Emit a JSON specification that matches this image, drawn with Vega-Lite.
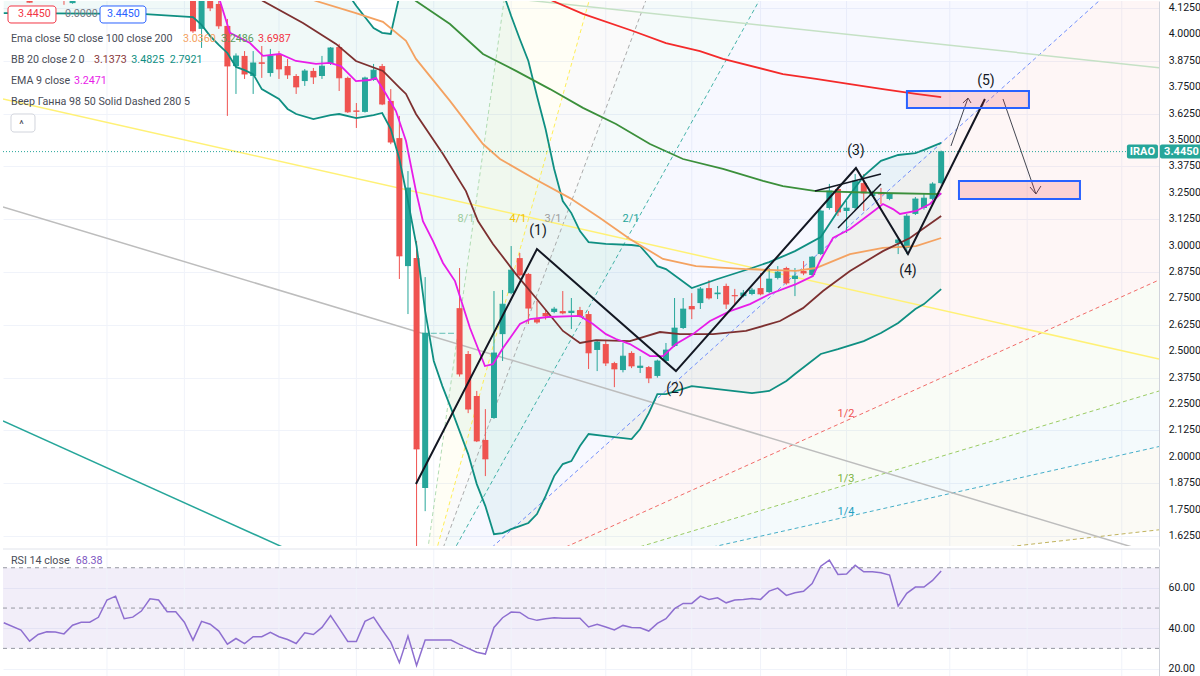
{
  "$schema": "https://vega.github.io/schema/vega-lite/v6.json",
  "padding": 0,
  "spacing": 3,
  "bounds": "flush",
  "background": "white",
  "config": {
    "view": {"stroke": null},
    "scale": {"continuousPadding": 0},
    "axis": {"labelFont": "Roboto", "labelFontSize": 10.5, "labelColor": "#131722", "ticks": false, "domainColor": "#d1d4dc", "gridColor": "#f0f3fa", "labelPadding": 9, "labelOverlap": false},
    "text": {"font": "Roboto"}
  },
  "datasets": {
    "candles": [
      {"t":-19,"o":4.170,"h":4.180,"l":4.150,"c":4.152},
      {"t":-15,"o":4.170,"h":4.180,"l":4.140,"c":4.165},
      {"t":-14,"o":4.148,"h":4.180,"l":4.145,"c":4.170},
      {"t":0,"o":4.182,"h":4.200,"l":4.007,"c":4.016},
      {"t":1,"o":4.026,"h":4.190,"l":3.936,"c":4.172},
      {"t":2,"o":4.168,"h":4.180,"l":4.110,"c":4.125},
      {"t":3,"o":4.144,"h":4.158,"l":4.026,"c":4.040},
      {"t":4,"o":4.040,"h":4.073,"l":3.614,"c":3.850},
      {"t":5,"o":3.850,"h":3.910,"l":3.718,"c":3.898},
      {"t":6,"o":3.898,"h":3.921,"l":3.789,"c":3.812},
      {"t":7,"o":3.803,"h":3.921,"l":3.718,"c":3.865},
      {"t":8,"o":3.868,"h":3.945,"l":3.794,"c":3.862},
      {"t":9,"o":3.817,"h":3.931,"l":3.800,"c":3.898},
      {"t":10,"o":3.907,"h":3.921,"l":3.789,"c":3.836},
      {"t":11,"o":3.850,"h":3.884,"l":3.789,"c":3.808},
      {"t":12,"o":3.803,"h":3.812,"l":3.718,"c":3.751},
      {"t":13,"o":3.779,"h":3.836,"l":3.756,"c":3.827},
      {"t":14,"o":3.827,"h":3.841,"l":3.765,"c":3.798},
      {"t":15,"o":3.803,"h":3.898,"l":3.789,"c":3.850},
      {"t":16,"o":3.860,"h":3.940,"l":3.855,"c":3.936},
      {"t":17,"o":3.940,"h":3.955,"l":3.732,"c":3.794},
      {"t":18,"o":3.794,"h":3.800,"l":3.628,"c":3.633},
      {"t":19,"o":3.640,"h":3.675,"l":3.557,"c":3.635},
      {"t":20,"o":3.633,"h":3.800,"l":3.630,"c":3.794},
      {"t":21,"o":3.784,"h":3.860,"l":3.780,"c":3.831},
      {"t":22,"o":3.850,"h":3.860,"l":3.665,"c":3.670},
      {"t":23,"o":3.685,"h":3.741,"l":3.480,"c":3.490},
      {"t":24,"o":3.509,"h":3.614,"l":2.842,"c":2.951},
      {"t":25,"o":2.903,"h":3.353,"l":2.676,"c":3.273},
      {"t":26,"o":2.941,"h":3.022,"l":1.450,"c":2.037},
      {"t":27,"o":1.852,"h":2.851,"l":1.743,"c":2.586},
      {"t":28,"o":2.585,"h":2.585,"l":2.585,"c":2.585},
      {"t":29,"o":2.585,"h":2.585,"l":2.585,"c":2.585},
      {"t":30,"o":2.585,"h":2.585,"l":2.585,"c":2.585},
      {"t":31,"o":2.704,"h":2.894,"l":2.380,"c":2.392},
      {"t":32,"o":2.487,"h":2.501,"l":2.207,"c":2.226},
      {"t":33,"o":2.288,"h":2.312,"l":2.070,"c":2.075},
      {"t":34,"o":2.080,"h":2.226,"l":1.909,"c":1.990},
      {"t":35,"o":2.184,"h":2.785,"l":2.180,"c":2.492},
      {"t":36,"o":2.581,"h":2.790,"l":2.454,"c":2.723},
      {"t":37,"o":2.775,"h":2.998,"l":2.770,"c":2.884},
      {"t":38,"o":2.941,"h":2.965,"l":2.855,"c":2.861},
      {"t":39,"o":2.866,"h":2.870,"l":2.629,"c":2.704},
      {"t":40,"o":2.652,"h":2.738,"l":2.630,"c":2.638},
      {"t":41,"o":2.681,"h":2.700,"l":2.650,"c":2.667},
      {"t":42,"o":2.686,"h":2.710,"l":2.680,"c":2.700},
      {"t":43,"o":2.690,"h":2.785,"l":2.675,"c":2.681},
      {"t":44,"o":2.681,"h":2.752,"l":2.605,"c":2.690},
      {"t":45,"o":2.695,"h":2.710,"l":2.660,"c":2.667},
      {"t":46,"o":2.676,"h":2.690,"l":2.416,"c":2.492},
      {"t":47,"o":2.506,"h":2.550,"l":2.406,"c":2.544},
      {"t":48,"o":2.534,"h":2.550,"l":2.430,"c":2.444},
      {"t":49,"o":2.444,"h":2.450,"l":2.330,"c":2.416},
      {"t":50,"o":2.411,"h":2.539,"l":2.400,"c":2.477},
      {"t":51,"o":2.492,"h":2.500,"l":2.420,"c":2.430},
      {"t":52,"o":2.421,"h":2.477,"l":2.397,"c":2.430},
      {"t":53,"o":2.425,"h":2.430,"l":2.349,"c":2.373},
      {"t":54,"o":2.383,"h":2.460,"l":2.375,"c":2.454},
      {"t":55,"o":2.454,"h":2.539,"l":2.450,"c":2.506},
      {"t":56,"o":2.525,"h":2.752,"l":2.520,"c":2.610},
      {"t":57,"o":2.610,"h":2.752,"l":2.605,"c":2.700},
      {"t":58,"o":2.714,"h":2.775,"l":2.652,"c":2.700},
      {"t":59,"o":2.728,"h":2.804,"l":2.700,"c":2.795},
      {"t":60,"o":2.799,"h":2.837,"l":2.745,"c":2.752},
      {"t":61,"o":2.770,"h":2.809,"l":2.747,"c":2.776},
      {"t":62,"o":2.809,"h":2.820,"l":2.700,"c":2.723},
      {"t":63,"o":2.766,"h":2.795,"l":2.723,"c":2.762},
      {"t":64,"o":2.761,"h":2.790,"l":2.755,"c":2.776},
      {"t":65,"o":2.771,"h":2.800,"l":2.765,"c":2.790},
      {"t":66,"o":2.799,"h":2.870,"l":2.765,"c":2.771},
      {"t":67,"o":2.780,"h":2.894,"l":2.775,"c":2.842},
      {"t":68,"o":2.847,"h":2.903,"l":2.840,"c":2.875},
      {"t":69,"o":2.894,"h":2.900,"l":2.815,"c":2.823},
      {"t":70,"o":2.842,"h":2.894,"l":2.761,"c":2.856},
      {"t":71,"o":2.880,"h":2.927,"l":2.860,"c":2.870},
      {"t":72,"o":2.861,"h":2.950,"l":2.855,"c":2.946},
      {"t":73,"o":2.960,"h":3.170,"l":2.955,"c":3.164},
      {"t":74,"o":3.178,"h":3.292,"l":3.170,"c":3.259},
      {"t":75,"o":3.268,"h":3.280,"l":3.140,"c":3.159},
      {"t":76,"o":3.164,"h":3.211,"l":3.060,"c":3.178},
      {"t":77,"o":3.178,"h":3.339,"l":3.170,"c":3.306},
      {"t":78,"o":3.296,"h":3.339,"l":3.164,"c":3.249},
      {"t":79,"o":3.235,"h":3.260,"l":3.230,"c":3.249},
      {"t":80,"o":3.254,"h":3.273,"l":3.197,"c":3.244},
      {"t":81,"o":3.221,"h":3.250,"l":3.215,"c":3.244},
      {"t":82,"o":3.012,"h":3.036,"l":2.960,"c":3.027},
      {"t":83,"o":2.989,"h":3.150,"l":2.960,"c":3.140},
      {"t":84,"o":3.150,"h":3.230,"l":3.145,"c":3.221},
      {"t":85,"o":3.178,"h":3.244,"l":3.170,"c":3.225},
      {"t":86,"o":3.221,"h":3.300,"l":3.215,"c":3.292},
      {"t":87,"o":3.296,"h":3.450,"l":3.290,"c":3.445}
    ],
    "ind": [
      {"s":"e200","t":39.53,"p":4.205},{"s":"e200","t":41.86,"p":4.158},{"s":"e200","t":45.35,"p":4.097},{"s":"e200","t":51.16,"p":4.016},{"s":"e200","t":55,"p":3.959},{"s":"e200","t":58.95,"p":3.921},{"s":"e200","t":61.63,"p":3.884},{"s":"e200","t":68.6,"p":3.812},{"s":"e200","t":72.44,"p":3.789},{"s":"e200","t":76.4,"p":3.765},{"s":"e200","t":80.23,"p":3.741},{"s":"e200","t":84.07,"p":3.718},{"s":"e200","t":87,"p":3.703},
      {"s":"e100","t":24.42,"p":4.205},{"s":"e100","t":25.93,"p":4.158},{"s":"e100","t":29.88,"p":4.049},{"s":"e100","t":33.72,"p":3.907},{"s":"e100","t":37.56,"p":3.827},{"s":"e100","t":41.51,"p":3.741},{"s":"e100","t":45.35,"p":3.652},{"s":"e100","t":49.19,"p":3.576},{"s":"e100","t":53.14,"p":3.481},{"s":"e100","t":56.98,"p":3.410},{"s":"e100","t":61.63,"p":3.363},{"s":"e100","t":66.28,"p":3.306},{"s":"e100","t":68.6,"p":3.282},{"s":"e100","t":72.44,"p":3.258},{"s":"e100","t":80.23,"p":3.249},{"s":"e100","t":87,"p":3.244},
      {"s":"e50","t":12.79,"p":4.182},{"s":"e50","t":14.3,"p":4.158},{"s":"e50","t":18.95,"p":4.101},{"s":"e50","t":22.09,"p":4.059},{"s":"e50","t":24.77,"p":3.969},{"s":"e50","t":25.93,"p":3.884},{"s":"e50","t":29.88,"p":3.685},{"s":"e50","t":33.72,"p":3.481},{"s":"e50","t":35.7,"p":3.410},{"s":"e50","t":39.53,"p":3.320},{"s":"e50","t":43.84,"p":3.225},{"s":"e50","t":47.33,"p":3.131},{"s":"e50","t":50.81,"p":3.031},{"s":"e50","t":54.65,"p":2.937},{"s":"e50","t":58.49,"p":2.903},{"s":"e50","t":64.3,"p":2.889},{"s":"e50","t":70.12,"p":2.880},{"s":"e50","t":72.44,"p":2.894},{"s":"e50","t":76.4,"p":2.960},{"s":"e50","t":80.23,"p":2.989},{"s":"e50","t":84.07,"p":2.998},{"s":"e50","t":87,"p":3.036},
      {"s":"bas","t":6.4,"p":4.205},{"s":"bas","t":8.14,"p":4.158},{"s":"bas","t":12.79,"p":4.054},{"s":"bas","t":16.63,"p":3.955},{"s":"bas","t":18.95,"p":3.874},{"s":"bas","t":22.09,"p":3.827},{"s":"bas","t":24.07,"p":3.746},{"s":"bas","t":24.77,"p":3.718},{"s":"bas","t":25.93,"p":3.623},{"s":"bas","t":29.07,"p":3.434},{"s":"bas","t":31.74,"p":3.258},{"s":"bas","t":33.14,"p":3.116},{"s":"bas","t":34.88,"p":3.008},{"s":"bas","t":37.56,"p":2.865},{"s":"bas","t":39.88,"p":2.752},{"s":"bas","t":43.02,"p":2.596},{"s":"bas","t":45,"p":2.539},{"s":"bas","t":46.86,"p":2.553},{"s":"bas","t":50.81,"p":2.548},{"s":"bas","t":54.3,"p":2.591},{"s":"bas","t":56.63,"p":2.581},{"s":"bas","t":60.47,"p":2.581},{"s":"bas","t":64.3,"p":2.596},{"s":"bas","t":68.26,"p":2.643},{"s":"bas","t":70.93,"p":2.704},{"s":"bas","t":73.26,"p":2.785},{"s":"bas","t":76.4,"p":2.880},{"s":"bas","t":80.23,"p":2.974},{"s":"bas","t":83.37,"p":3.036},{"s":"bas","t":87,"p":3.140},
      {"s":"e9","t":1.74,"p":4.253},{"s":"e9","t":3.14,"p":4.158},{"s":"e9","t":4.3,"p":4.007},{"s":"e9","t":6.63,"p":3.959},{"s":"e9","t":8.14,"p":3.898},{"s":"e9","t":10.12,"p":3.907},{"s":"e9","t":11.98,"p":3.874},{"s":"e9","t":14.3,"p":3.860},{"s":"e9","t":15.93,"p":3.865},{"s":"e9","t":17.2,"p":3.850},{"s":"e9","t":18.95,"p":3.779},{"s":"e9","t":20.58,"p":3.784},{"s":"e9","t":21.28,"p":3.794},{"s":"e9","t":22.44,"p":3.718},{"s":"e9","t":23.6,"p":3.637},{"s":"e9","t":24.77,"p":3.495},{"s":"e9","t":25.93,"p":3.258},{"s":"e9","t":26.74,"p":3.116},{"s":"e9","t":27.9,"p":3.022},{"s":"e9","t":29.07,"p":2.918},{"s":"e9","t":30.47,"p":2.832},{"s":"e9","t":32.21,"p":2.610},{"s":"e9","t":33.95,"p":2.430},{"s":"e9","t":34.88,"p":2.439},{"s":"e9","t":36.05,"p":2.515},{"s":"e9","t":38.02,"p":2.629},{"s":"e9","t":39.19,"p":2.652},{"s":"e9","t":41.28,"p":2.662},{"s":"e9","t":45,"p":2.667},{"s":"e9","t":46.51,"p":2.629},{"s":"e9","t":48.02,"p":2.581},{"s":"e9","t":49.19,"p":2.558},{"s":"e9","t":50.81,"p":2.534},{"s":"e9","t":53.14,"p":2.477},{"s":"e9","t":54.65,"p":2.477},{"s":"e9","t":56.16,"p":2.534},{"s":"e9","t":58.14,"p":2.581},{"s":"e9","t":60.12,"p":2.643},{"s":"e9","t":62.44,"p":2.690},{"s":"e9","t":64.77,"p":2.723},{"s":"e9","t":67.09,"p":2.771},{"s":"e9","t":70.12,"p":2.818},{"s":"e9","t":72.09,"p":2.856},{"s":"e9","t":72.91,"p":2.927},{"s":"e9","t":74.42,"p":3.036},{"s":"e9","t":76.4,"p":3.079},{"s":"e9","t":78.72,"p":3.150},{"s":"e9","t":80.23,"p":3.197},{"s":"e9","t":81.4,"p":3.173},{"s":"e9","t":82.21,"p":3.150},{"s":"e9","t":84.07,"p":3.164},{"s":"e9","t":85.7,"p":3.197},{"s":"e9","t":87,"p":3.249}
    ],
    "bb": [
      {"t":-22,"up":4.632,"lo":4.101},{"t":-6,"up":4.632,"lo":4.097},{"t":0,"up":4.726,"lo":4.082},{"t":1,"up":4.750,"lo":4.045},{"t":2,"up":4.764,"lo":3.992},{"t":3,"up":4.774,"lo":3.950},{"t":4,"up":4.774,"lo":3.912},{"t":5,"up":4.774,"lo":3.846},{"t":6,"up":4.750,"lo":3.831},{"t":7,"up":4.726,"lo":3.812},{"t":8,"up":4.703,"lo":3.741},{"t":10,"up":4.584,"lo":3.694},{"t":11,"up":4.537,"lo":3.647},{"t":12,"up":4.490,"lo":3.623},{"t":14,"up":4.419,"lo":3.599},{"t":16,"up":4.324,"lo":3.618},{"t":17,"up":4.253,"lo":3.623},{"t":19,"up":4.134,"lo":3.604},{"t":21,"up":4.030,"lo":3.618},{"t":22,"up":4.007,"lo":3.628},{"t":23,"up":4.002,"lo":3.552},{"t":24,"up":4.182,"lo":3.410},{"t":25,"up":4.253,"lo":3.211},{"t":26,"up":4.324,"lo":2.998},{"t":27,"up":4.419,"lo":2.690},{"t":28,"up":4.490,"lo":2.454},{"t":29,"up":4.537,"lo":2.335},{"t":30,"up":4.537,"lo":2.231},{"t":31,"up":4.490,"lo":2.122},{"t":32,"up":4.442,"lo":2.013},{"t":33,"up":4.371,"lo":1.871},{"t":34,"up":4.348,"lo":1.767},{"t":35,"up":4.324,"lo":1.634},{"t":36,"up":4.205,"lo":1.639},{"t":37,"up":4.087,"lo":1.658},{"t":38,"up":3.978,"lo":1.672},{"t":39,"up":3.874,"lo":1.687},{"t":40,"up":3.708,"lo":1.729},{"t":41,"up":3.552,"lo":1.814},{"t":42,"up":3.363,"lo":1.909},{"t":43,"up":3.211,"lo":1.966},{"t":44,"up":3.154,"lo":1.980},{"t":45,"up":3.069,"lo":2.051},{"t":46,"up":3.017,"lo":2.108},{"t":48,"up":3.008,"lo":2.098},{"t":51,"up":3.003,"lo":2.084},{"t":52,"up":2.998,"lo":2.132},{"t":53,"up":2.951,"lo":2.207},{"t":54,"up":2.903,"lo":2.297},{"t":55,"up":2.889,"lo":2.297},{"t":58,"up":2.799,"lo":2.335},{"t":61,"up":2.842,"lo":2.321},{"t":65,"up":2.894,"lo":2.302},{"t":67,"up":2.922,"lo":2.312},{"t":69,"up":2.956,"lo":2.359},{"t":70,"up":2.974,"lo":2.392},{"t":73,"up":3.041,"lo":2.487},{"t":75,"up":3.164,"lo":2.510},{"t":78,"up":3.330,"lo":2.548},{"t":80,"up":3.401,"lo":2.586},{"t":82,"up":3.429,"lo":2.634},{"t":84,"up":3.438,"lo":2.700},{"t":85,"up":3.453,"lo":2.723},{"t":87,"up":3.486,"lo":2.794}
    ],
    "fan": [
      {"k":"8/1","t":26.28,"p":1.2604,"t2":36.65,"p2":4.3},
      {"k":"4/1","t":26.28,"p":1.2604,"t2":47.02,"p2":4.3},
      {"k":"3/1","t":26.28,"p":1.2604,"t2":53.93,"p2":4.3},
      {"k":"2/1","t":26.28,"p":1.2604,"t2":67.75,"p2":4.3},
      {"k":"1/1","t":26.28,"p":1.2604,"t2":109.22,"p2":4.3},
      {"k":"1/2","t":26.28,"p":1.2604,"t2":112.33,"p2":2.8372},
      {"k":"1/3","t":26.28,"p":1.2604,"t2":112.33,"p2":2.3116},
      {"k":"1/4","t":26.28,"p":1.2604,"t2":112.33,"p2":2.0488},
      {"k":"1/8","t":26.28,"p":1.2604,"t2":112.33,"p2":1.6546}
    ],
    "fanband": [
      {"b":"b81","t":26.28,"hi":1.2604,"lo":1.2604},{"b":"b81","t":112.33,"hi":26.488,"lo":13.875},
      {"b":"b43","t":26.28,"hi":1.2604,"lo":1.2604},{"b":"b43","t":112.33,"hi":13.875,"lo":10.721},
      {"b":"b32","t":26.28,"hi":1.2604,"lo":1.2604},{"b":"b32","t":112.33,"hi":10.721,"lo":7.5675},
      {"b":"b21","t":26.28,"hi":1.2604,"lo":1.2604},{"b":"b21","t":112.33,"hi":7.5675,"lo":4.4140},
      {"b":"b11","t":26.28,"hi":1.2604,"lo":1.2604},{"b":"b11","t":112.33,"hi":4.4140,"lo":2.8372},
      {"b":"b12","t":26.28,"hi":1.2604,"lo":1.2604},{"b":"b12","t":112.33,"hi":2.8372,"lo":2.3116},
      {"b":"b13","t":26.28,"hi":1.2604,"lo":1.2604},{"b":"b13","t":112.33,"hi":2.3116,"lo":2.0488},
      {"b":"b14","t":26.28,"hi":1.2604,"lo":1.2604},{"b":"b14","t":112.33,"hi":2.0488,"lo":1.6546}
    ],
    "draw": [
      {"s":"yellow","t":-22.09,"p":3.6941},{"s":"yellow","t":112.33,"p":2.4630},
      {"s":"grey","t":-22.09,"p":3.1827},{"s":"grey","t":112.33,"p":1.5350},
      {"s":"teal","t":-22.09,"p":2.1695},{"s":"teal","t":13,"p":1.5256},
      {"s":"lgreen","t":35,"p":4.179},{"s":"lgreen","t":112.33,"p":3.8423}
    ],
    "wave": [
      {"s":"wave","t":25.93,"p":1.8712},{"s":"wave","t":40,"p":2.9839},{"s":"wave","t":56.16,"p":2.4062},{"s":"wave","t":77.09,"p":3.3674},{"s":"wave","t":83.14,"p":2.9602},{"s":"wave","t":92.09,"p":3.6941}
    ],
    "chan": [
      {"s":"ch1","t":72.33,"p":3.2585},{"s":"ch1","t":80,"p":3.3390},
      {"s":"ch2","t":75,"p":3.0833},{"s":"ch2","t":80,"p":3.2916}
    ],
    "arrows": [
      {"s":"a1","t":88.14,"p":3.4716},{"s":"a1","t":90.12,"p":3.6988},
      {"s":"a1h","t":89.53,"p":3.6752},{"s":"a1h","t":90.12,"p":3.6988},{"s":"a1h","t":90.47,"p":3.6752},
      {"s":"a2","t":94.19,"p":3.6941},{"s":"a2","t":98.02,"p":3.2443},
      {"s":"a2h","t":97.33,"p":3.2774},{"s":"a2h","t":98.02,"p":3.2443},{"s":"a2h","t":98.6,"p":3.2822}
    ],
    "vgrid": [{"t":-10},{"t":-1},{"t":10},{"t":19},{"t":28},{"t":37},{"t":48},{"t":58},{"t":66},{"t":76},{"t":88},{"t":97},{"t":108}],
    "pticks": [{"p":1.625},{"p":1.75},{"p":1.875},{"p":2},{"p":2.125},{"p":2.25},{"p":2.375},{"p":2.5},{"p":2.625},{"p":2.75},{"p":2.875},{"p":3},{"p":3.125},{"p":3.25},{"p":3.375},{"p":3.5},{"p":3.625},{"p":3.75},{"p":3.875},{"p":4},{"p":4.125}],
    "rsi": [
      {"t":-22,"v":42.7},{"t":-20,"v":39.1},{"t":-19,"v":33.6},{"t":-18,"v":36.9},{"t":-17,"v":38.2},{"t":-16,"v":38.1},{"t":-15,"v":37.2},{"t":-14,"v":41.5},{"t":-13,"v":43.0},{"t":-12,"v":43.0},{"t":-11,"v":45.4},{"t":-10,"v":54.0},{"t":-9,"v":55.9},{"t":-8,"v":44.7},{"t":-7,"v":45.5},{"t":-6,"v":48.5},{"t":-5,"v":54.6},{"t":-4,"v":54.0},{"t":-3,"v":48.2},{"t":-2,"v":48.2},{"t":-1,"v":43.0},
      {"t":0,"v":34.1},{"t":1,"v":43.4},{"t":2,"v":42.0},{"t":3,"v":38.6},{"t":4,"v":32.1},{"t":5,"v":34.9},{"t":6,"v":32.4},{"t":7,"v":35.8},{"t":8,"v":35.8},{"t":9,"v":37.9},{"t":10,"v":35.8},{"t":11,"v":34.4},{"t":12,"v":32.4},{"t":13,"v":37.7},{"t":14,"v":36.9},{"t":15,"v":40.4},{"t":16,"v":46.3},{"t":17,"v":39.9},{"t":18,"v":33.4},{"t":19,"v":33.4},{"t":20,"v":43.4},{"t":21,"v":45.5},{"t":22,"v":39.1},{"t":23,"v":33.1},{"t":24,"v":22.9},{"t":25,"v":36.1},{"t":26,"v":21.5},{"t":27,"v":34.1},{"t":28,"v":34.1},{"t":29,"v":34.1},{"t":30,"v":34.1},{"t":31,"v":32.0},{"t":32,"v":30.0},{"t":33,"v":28.1},{"t":34,"v":27.2},{"t":35,"v":40.4},{"t":36,"v":45.2},{"t":37,"v":48.0},{"t":38,"v":47.8},{"t":39,"v":45.0},{"t":40,"v":43.9},{"t":41,"v":44.7},{"t":42,"v":45.2},{"t":43,"v":45.0},{"t":44,"v":45.0},{"t":45,"v":44.9},{"t":46,"v":40.6},{"t":47,"v":42.0},{"t":48,"v":40.6},{"t":49,"v":39.1},{"t":50,"v":41.4},{"t":51,"v":40.4},{"t":52,"v":40.2},{"t":53,"v":38.6},{"t":54,"v":42.4},{"t":55,"v":44.7},{"t":56,"v":49.7},{"t":57,"v":52.3},{"t":58,"v":52.3},{"t":59,"v":55.9},{"t":60,"v":54.3},{"t":61,"v":55.1},{"t":62,"v":52.6},{"t":63,"v":54.0},{"t":64,"v":54.3},{"t":65,"v":54.8},{"t":66,"v":54.3},{"t":67,"v":58.4},{"t":68,"v":59.9},{"t":69,"v":56.3},{"t":70,"v":57.6},{"t":71,"v":58.3},{"t":72,"v":62.2},{"t":73,"v":70.8},{"t":74,"v":73.8},{"t":75,"v":66.7},{"t":76,"v":66.9},{"t":77,"v":71.2},{"t":78,"v":68.0},{"t":79,"v":68.0},{"t":80,"v":67.5},{"t":81,"v":66.4},{"t":82,"v":51.0},{"t":83,"v":57.3},{"t":84,"v":60.4},{"t":85,"v":60.4},{"t":86,"v":63.7},{"t":87,"v":68.4}
    ]
  },
  "vconcat": [
    {
      "width": 1156,
      "height": 545,
      "resolve": {"scale": {"color": "independent", "stroke": "independent"}},
      "layer": [
        {
          "data": {"name": "vgrid"},
          "mark": {"type": "rule", "color": "#f0f3fa", "strokeWidth": 1},
          "encoding": {"x": {"field": "t", "type": "quantitative", "scale": {"domain": [-22.09, 112.33], "nice": false, "zero": false, "padding": 0}, "axis": null}}
        },
        {
          "data": {"name": "fanband"},
          "mark": {"type": "area", "clip": true, "opacity": 0.05},
          "encoding": {
            "x": {"field": "t", "type": "quantitative", "scale": {"domain": [-22.09, 112.33], "nice": false, "zero": false, "padding": 0}, "axis": null},
            "y": {"field": "hi", "type": "quantitative", "title": null, "stack": null, "scale": {"domain": [1.578, 4.158], "nice": false, "zero": false, "padding": 0},
                  "axis": {"orient": "right", "title": null, "values": [1.625,1.75,1.875,2,2.125,2.25,2.375,2.5,2.625,2.75,2.875,3,3.125,3.25,3.375,3.5,3.625,3.75,3.875,4,4.125], "labels": false, "grid": true, "domain": true}},
            "y2": {"field": "lo"},
            "color": {"field": "b", "type": "nominal", "legend": null, "scale": {"domain": ["b81","b43","b32","b21","b11","b12","b13","b14"], "range": ["#ffeb3b","#9e9e9e","#26a69a","#5b7cfa","#ef5350","#8bc34a","#26a0c0","#b5a642"]}}
          }
        },
        {
          "data": {"name": "bb"},
          "mark": {"type": "area", "clip": true, "color": "#26a69a", "opacity": 0.07},
          "encoding": {
            "x": {"field": "t", "type": "quantitative", "scale": {"domain": [-22.09, 112.33], "nice": false, "zero": false, "padding": 0}, "axis": null},
            "y": {"field": "up", "type": "quantitative", "title": null, "stack": null, "scale": {"domain": [1.578, 4.158], "nice": false, "zero": false, "padding": 0}},
            "y2": {"field": "lo"}
          }
        },
        {
          "data": {"name": "fan"},
          "mark": {"type": "rule", "clip": true, "strokeWidth": 1, "strokeDash": [4, 3], "opacity": 0.85},
          "encoding": {
            "x": {"field": "t", "type": "quantitative", "scale": {"domain": [-22.09, 112.33], "nice": false, "zero": false, "padding": 0}, "axis": null},
            "y": {"field": "p", "type": "quantitative", "title": null, "scale": {"domain": [1.578, 4.158], "nice": false, "zero": false, "padding": 0}},
            "x2": {"field": "t2"},
            "y2": {"field": "p2"},
            "color": {"field": "k", "type": "nominal", "legend": null, "scale": {"domain": ["8/1","4/1","3/1","2/1","1/1","1/2","1/3","1/4","1/8"], "range": ["#a5d6a7","#ffeb3b","#9e9e9e","#26a69a","#5b7cfa","#ef5350","#8bc34a","#26a0c0","#b5a642"]}}
          }
        },
        {
          "data": {"name": "draw"},
          "mark": {"type": "line", "clip": true, "strokeWidth": 1.5},
          "encoding": {
            "x": {"field": "t", "type": "quantitative", "scale": {"domain": [-22.09, 112.33], "nice": false, "zero": false, "padding": 0}, "axis": null},
            "y": {"field": "p", "type": "quantitative", "title": null, "scale": {"domain": [1.578, 4.158], "nice": false, "zero": false, "padding": 0}},
            "color": {"field": "s", "type": "nominal", "legend": null, "scale": {"domain": ["yellow","grey","teal","lgreen"], "range": ["#fff176","#bdbdbd","#26a69a","#c5e1c5"]}}
          }
        },
        {
          "data": {"name": "candles"},
          "mark": {"type": "rule", "clip": true, "strokeWidth": 1},
          "encoding": {
            "x": {"field": "t", "type": "quantitative", "scale": {"domain": [-22.09, 112.33], "nice": false, "zero": false, "padding": 0}, "axis": null},
            "y": {"field": "l", "type": "quantitative", "title": null, "scale": {"domain": [1.578, 4.158], "nice": false, "zero": false, "padding": 0}},
            "y2": {"field": "h"},
            "color": {"condition": {"test": "datum.c >= datum.o", "value": "#26a69a"}, "value": "#ef5350"}
          }
        },
        {
          "data": {"name": "candles"},
          "mark": {"type": "bar", "clip": true, "width": 6},
          "encoding": {
            "x": {"field": "t", "type": "quantitative", "scale": {"domain": [-22.09, 112.33], "nice": false, "zero": false, "padding": 0}, "axis": null},
            "y": {"field": "o", "type": "quantitative", "title": null, "scale": {"domain": [1.578, 4.158], "nice": false, "zero": false, "padding": 0}},
            "y2": {"field": "c"},
            "color": {"condition": {"test": "datum.c >= datum.o", "value": "#26a69a"}, "value": "#ef5350"}
          }
        },
        {
          "data": {"name": "candles"},
          "mark": {"type": "tick", "clip": true, "orient": "horizontal", "size": 6, "thickness": 1},
          "encoding": {
            "x": {"field": "t", "type": "quantitative", "scale": {"domain": [-22.09, 112.33], "nice": false, "zero": false, "padding": 0}, "axis": null},
            "y": {"field": "c", "type": "quantitative", "title": null, "scale": {"domain": [1.578, 4.158], "nice": false, "zero": false, "padding": 0}},
            "color": {"condition": {"test": "datum.c >= datum.o", "value": "#26a69a"}, "value": "#ef5350"}
          }
        },
        {
          "data": {"name": "bb"},
          "mark": {"type": "line", "clip": true, "color": "#0f8f82", "strokeWidth": 1.8},
          "encoding": {
            "x": {"field": "t", "type": "quantitative", "scale": {"domain": [-22.09, 112.33], "nice": false, "zero": false, "padding": 0}, "axis": null},
            "y": {"field": "up", "type": "quantitative", "title": null, "scale": {"domain": [1.578, 4.158], "nice": false, "zero": false, "padding": 0}}
          }
        },
        {
          "data": {"name": "bb"},
          "mark": {"type": "line", "clip": true, "color": "#0f8f82", "strokeWidth": 1.8},
          "encoding": {
            "x": {"field": "t", "type": "quantitative", "scale": {"domain": [-22.09, 112.33], "nice": false, "zero": false, "padding": 0}, "axis": null},
            "y": {"field": "lo", "type": "quantitative", "title": null, "scale": {"domain": [1.578, 4.158], "nice": false, "zero": false, "padding": 0}}
          }
        },
        {
          "data": {"name": "ind"},
          "mark": {"type": "line", "clip": true, "strokeWidth": 1.8},
          "encoding": {
            "x": {"field": "t", "type": "quantitative", "scale": {"domain": [-22.09, 112.33], "nice": false, "zero": false, "padding": 0}, "axis": null},
            "y": {"field": "p", "type": "quantitative", "title": null, "scale": {"domain": [1.578, 4.158], "nice": false, "zero": false, "padding": 0}},
            "color": {"field": "s", "type": "nominal", "legend": null, "scale": {"domain": ["e200","e100","e50","bas","e9"], "range": ["#f42a2a","#3b8f3b","#f4a261","#7d3030","#e81ce8"]}}
          }
        },
        {
          "data": {"values": [{"t": -22.09, "t2": 108.6, "p": 3.445}]},
          "mark": {"type": "rule", "color": "#26a69a", "strokeWidth": 1, "strokeDash": [1, 2]},
          "encoding": {
            "x": {"field": "t", "type": "quantitative", "scale": {"domain": [-22.09, 112.33], "nice": false, "zero": false, "padding": 0}, "axis": null},
            "x2": {"field": "t2"},
            "y": {"field": "p", "type": "quantitative", "title": null, "scale": {"domain": [1.578, 4.158], "nice": false, "zero": false, "padding": 0}}
          }
        },
        {
          "data": {"name": "wave"},
          "mark": {"type": "line", "clip": true, "color": "#131722", "strokeWidth": 2},
          "encoding": {
            "x": {"field": "t", "type": "quantitative", "scale": {"domain": [-22.09, 112.33], "nice": false, "zero": false, "padding": 0}, "axis": null},
            "y": {"field": "p", "type": "quantitative", "title": null, "scale": {"domain": [1.578, 4.158], "nice": false, "zero": false, "padding": 0}}
          }
        },
        {
          "data": {"name": "chan"},
          "mark": {"type": "line", "clip": true, "color": "#131722", "strokeWidth": 1.5},
          "encoding": {
            "x": {"field": "t", "type": "quantitative", "scale": {"domain": [-22.09, 112.33], "nice": false, "zero": false, "padding": 0}, "axis": null},
            "y": {"field": "p", "type": "quantitative", "title": null, "scale": {"domain": [1.578, 4.158], "nice": false, "zero": false, "padding": 0}},
            "detail": {"field": "s"}
          }
        },
        {
          "data": {"name": "arrows"},
          "mark": {"type": "line", "clip": true, "color": "#434651", "strokeWidth": 1},
          "encoding": {
            "x": {"field": "t", "type": "quantitative", "scale": {"domain": [-22.09, 112.33], "nice": false, "zero": false, "padding": 0}, "axis": null},
            "y": {"field": "p", "type": "quantitative", "title": null, "scale": {"domain": [1.578, 4.158], "nice": false, "zero": false, "padding": 0}},
            "detail": {"field": "s"}
          }
        },
        {
          "data": {"values": [{"r": "r1", "t": 83.02, "t2": 97.21, "p": 3.7320, "p2": 3.6516}, {"r": "r2", "t": 89.07, "t2": 103.14, "p": 3.3058, "p2": 3.2206}]},
          "mark": {"type": "rect", "fill": "#f23645", "fillOpacity": 0.18, "stroke": "#2962ff", "strokeWidth": 2},
          "encoding": {
            "x": {"field": "t", "type": "quantitative", "scale": {"domain": [-22.09, 112.33], "nice": false, "zero": false, "padding": 0}, "axis": null},
            "x2": {"field": "t2"},
            "y": {"field": "p", "type": "quantitative", "title": null, "scale": {"domain": [1.578, 4.158], "nice": false, "zero": false, "padding": 0}},
            "y2": {"field": "p2"}
          }
        },
        {
          "data": {"values": [{"k": "red", "t": -21.51, "t2": -15.93, "p": 4.1344, "p2": 4.0539}, {"k": "blue", "t": -10.81, "t2": -5.47, "p": 4.1344, "p2": 4.0539}, {"k": "btn", "t": -21.16, "t2": -18.37, "p": 3.6231, "p2": 3.5378}]},
          "mark": {"type": "rect", "fill": "white", "strokeWidth": 1, "cornerRadius": 3},
          "encoding": {
            "x": {"field": "t", "type": "quantitative", "scale": {"domain": [-22.09, 112.33], "nice": false, "zero": false, "padding": 0}, "axis": null},
            "x2": {"field": "t2"},
            "y": {"field": "p", "type": "quantitative", "title": null, "scale": {"domain": [1.578, 4.158], "nice": false, "zero": false, "padding": 0}},
            "y2": {"field": "p2"},
            "stroke": {"field": "k", "type": "nominal", "legend": null, "scale": {"domain": ["red", "blue", "btn"], "range": ["#f23645", "#2962ff", "#d1d4dc"]}}
          }
        },
        {
          "data": {"name": "pticks"},
          "mark": {"type": "text", "fontSize": 10.5, "color": "#131722", "align": "left", "baseline": "middle"},
          "encoding": {
            "x": {"datum": 113.45, "type": "quantitative", "scale": {"domain": [-22.09, 112.33], "nice": false, "zero": false, "padding": 0}, "axis": null},
            "y": {"field": "p", "type": "quantitative", "title": null, "scale": {"domain": [1.578, 4.158], "nice": false, "zero": false, "padding": 0}},
            "text": {"field": "p", "type": "quantitative", "format": ".4f"}
          }
        },
        {
          "data": {"values": [{"t": 108.6, "t2": 112.21, "p": 3.4786, "p2": 3.4123}, {"t": 112.44, "t2": 117.44, "p": 3.4786, "p2": 3.4123}]},
          "mark": {"type": "rect", "fill": "#26a69a", "cornerRadius": 2},
          "encoding": {
            "x": {"field": "t", "type": "quantitative", "scale": {"domain": [-22.09, 112.33], "nice": false, "zero": false, "padding": 0}, "axis": null},
            "x2": {"field": "t2"},
            "y": {"field": "p", "type": "quantitative", "title": null, "scale": {"domain": [1.578, 4.158], "nice": false, "zero": false, "padding": 0}},
            "y2": {"field": "p2"}
          }
        },
        {
          "data": {"values": [{"t": 110.4, "p": 3.445, "txt": "IRAO"}, {"t": 114.94, "p": 3.445, "txt": "3.4450"}]},
          "mark": {"type": "text", "color": "white", "fontSize": 11, "fontWeight": "bold", "align": "center", "baseline": "middle"},
          "encoding": {
            "x": {"field": "t", "type": "quantitative", "scale": {"domain": [-22.09, 112.33], "nice": false, "zero": false, "padding": 0}, "axis": null},
            "y": {"field": "p", "type": "quantitative", "title": null, "scale": {"domain": [1.578, 4.158], "nice": false, "zero": false, "padding": 0}},
            "text": {"field": "txt"}
          }
        },
        {
          "data": {"values": [
            {"k": "g", "t": -21.16, "p": 3.9758, "txt": "Ema close 50 close 100 close 200"},
            {"k": "o", "t": -1.16, "p": 3.9758, "txt": "3.0360"},
            {"k": "gr", "t": 3.26, "p": 3.9758, "txt": "3.2486"},
            {"k": "r", "t": 7.56, "p": 3.9758, "txt": "3.6987"},
            {"k": "g", "t": -21.16, "p": 3.8764, "txt": "BB 20 close 2 0"},
            {"k": "br", "t": -11.51, "p": 3.8764, "txt": "3.1373"},
            {"k": "te", "t": -7.17, "p": 3.8764, "txt": "3.4825"},
            {"k": "te", "t": -2.71, "p": 3.8764, "txt": "2.7921"},
            {"k": "g", "t": -21.16, "p": 3.7793, "txt": "EMA 9 close"},
            {"k": "m", "t": -13.84, "p": 3.7793, "txt": "3.2471"},
            {"k": "g", "t": -21.16, "p": 3.6822, "txt": "Веер Ганна 98 50 Solid Dashed 280 5"},
            {"k": "r", "t": -20.35, "p": 4.0942, "txt": "3.4450"},
            {"k": "gy", "t": -14.88, "p": 4.0942, "txt": "0.0000"},
            {"k": "b", "t": -10.0, "p": 4.0942, "txt": "3.4450"},
            {"k": "g", "t": -20.2, "p": 3.5700, "txt": "^"}
          ]},
          "mark": {"type": "text", "fontSize": 10.7, "align": "left", "baseline": "middle"},
          "encoding": {
            "x": {"field": "t", "type": "quantitative", "scale": {"domain": [-22.09, 112.33], "nice": false, "zero": false, "padding": 0}, "axis": null},
            "y": {"field": "p", "type": "quantitative", "title": null, "scale": {"domain": [1.578, 4.158], "nice": false, "zero": false, "padding": 0}},
            "text": {"field": "txt"},
            "color": {"field": "k", "type": "nominal", "legend": null, "scale": {"domain": ["g","o","gr","r","br","te","m","gy","b"], "range": ["#4a4d57","#f4a261","#5e9c5e","#f23645","#8b3a3a","#0f8f82","#e81ce8","#787b86","#2962ff"]}}
          }
        },
        {
          "data": {"values": [
            {"k": "f8", "t": 31.74, "p": 3.126, "txt": "8/1"},
            {"k": "f4", "t": 37.79, "p": 3.126, "txt": "4/1"},
            {"k": "f3", "t": 41.86, "p": 3.126, "txt": "3/1"},
            {"k": "f2", "t": 50.93, "p": 3.126, "txt": "2/1"},
            {"k": "h2", "t": 75.93, "p": 2.2026, "txt": "1/2"},
            {"k": "h3", "t": 75.93, "p": 1.8949, "txt": "1/3"},
            {"k": "h4", "t": 75.93, "p": 1.7386, "txt": "1/4"}
          ]},
          "mark": {"type": "text", "fontSize": 11, "align": "center", "baseline": "middle"},
          "encoding": {
            "x": {"field": "t", "type": "quantitative", "scale": {"domain": [-22.09, 112.33], "nice": false, "zero": false, "padding": 0}, "axis": null},
            "y": {"field": "p", "type": "quantitative", "title": null, "scale": {"domain": [1.578, 4.158], "nice": false, "zero": false, "padding": 0}},
            "text": {"field": "txt"},
            "color": {"field": "k", "type": "nominal", "legend": null, "scale": {"domain": ["f8","f4","f3","f2","h2","h3","h4"], "range": ["#9ccc9c","#f2c200","#9e9e9e","#26a69a","#ef5350","#7cb342","#26a0c0"]}}
          }
        },
        {
          "data": {"values": [
            {"t": 40.12, "p": 3.069, "txt": "(1)"},
            {"t": 56.05, "p": 2.321, "txt": "(2)"},
            {"t": 77.09, "p": 3.448, "txt": "(3)"},
            {"t": 83.14, "p": 2.880, "txt": "(4)"},
            {"t": 92.21, "p": 3.7793, "txt": "(5)"}
          ]},
          "mark": {"type": "text", "fontSize": 14, "color": "#131722", "align": "center", "baseline": "middle"},
          "encoding": {
            "x": {"field": "t", "type": "quantitative", "scale": {"domain": [-22.09, 112.33], "nice": false, "zero": false, "padding": 0}, "axis": null},
            "y": {"field": "p", "type": "quantitative", "title": null, "scale": {"domain": [1.578, 4.158], "nice": false, "zero": false, "padding": 0}},
            "text": {"field": "txt"}
          }
        }
      ]
    },
    {
      "width": 1156,
      "height": 128,
      "resolve": {"scale": {"color": "independent"}},
      "layer": [
        {
          "data": {"values": [{"t": -22.09, "t2": 112.33, "v": 30, "v2": 70}]},
          "mark": {"type": "rect", "color": "#7e57c2", "opacity": 0.1},
          "encoding": {
            "x": {"field": "t", "type": "quantitative", "scale": {"domain": [-22.09, 112.33], "nice": false, "zero": false, "padding": 0}, "axis": null},
            "x2": {"field": "t2"},
            "y": {"field": "v", "type": "quantitative", "title": null, "scale": {"domain": [15.8, 79.3], "nice": false, "zero": false, "padding": 0},
                  "axis": {"orient": "right", "title": null, "values": [20, 40, 60], "format": ".2f", "grid": true, "domain": true, "labelOverlap": false}},
            "y2": {"field": "v2"}
          }
        },
        {
          "data": {"name": "vgrid"},
          "mark": {"type": "rule", "color": "#f0f3fa", "strokeWidth": 1},
          "encoding": {"x": {"field": "t", "type": "quantitative", "scale": {"domain": [-22.09, 112.33], "nice": false, "zero": false, "padding": 0}, "axis": null}}
        },
        {
          "data": {"values": [{"v": 70}, {"v": 50}, {"v": 30}]},
          "mark": {"type": "rule", "color": "#9598a1", "strokeWidth": 1, "strokeDash": [4, 4]},
          "encoding": {"y": {"field": "v", "type": "quantitative", "title": null, "scale": {"domain": [15.8, 79.3], "nice": false, "zero": false, "padding": 0}}}
        },
        {
          "data": {"values": [{"v": 79.3}]},
          "mark": {"type": "rule", "color": "#e0e3eb", "strokeWidth": 1},
          "encoding": {"y": {"field": "v", "type": "quantitative", "title": null, "scale": {"domain": [15.8, 79.3], "nice": false, "zero": false, "padding": 0}}}
        },
        {
          "data": {"name": "rsi"},
          "mark": {"type": "line", "color": "#8e6fd0", "strokeWidth": 1.5},
          "encoding": {
            "x": {"field": "t", "type": "quantitative", "scale": {"domain": [-22.09, 112.33], "nice": false, "zero": false, "padding": 0}, "axis": null},
            "y": {"field": "v", "type": "quantitative", "title": null, "scale": {"domain": [15.8, 79.3], "nice": false, "zero": false, "padding": 0}}
          }
        },
        {
          "data": {"values": [{"k": "g", "t": -21.16, "v": 73.35, "txt": "RSI 14 close"}, {"k": "p", "t": -13.64, "v": 73.35, "txt": "68.38"}]},
          "mark": {"type": "text", "fontSize": 10.7, "align": "left", "baseline": "middle"},
          "encoding": {
            "x": {"field": "t", "type": "quantitative", "scale": {"domain": [-22.09, 112.33], "nice": false, "zero": false, "padding": 0}, "axis": null},
            "y": {"field": "v", "type": "quantitative", "title": null, "scale": {"domain": [15.8, 79.3], "nice": false, "zero": false, "padding": 0}},
            "text": {"field": "txt"},
            "color": {"field": "k", "type": "nominal", "legend": null, "scale": {"domain": ["g", "p"], "range": ["#4a4d57", "#7e57c2"]}}
          }
        }
      ]
    }
  ]
}
